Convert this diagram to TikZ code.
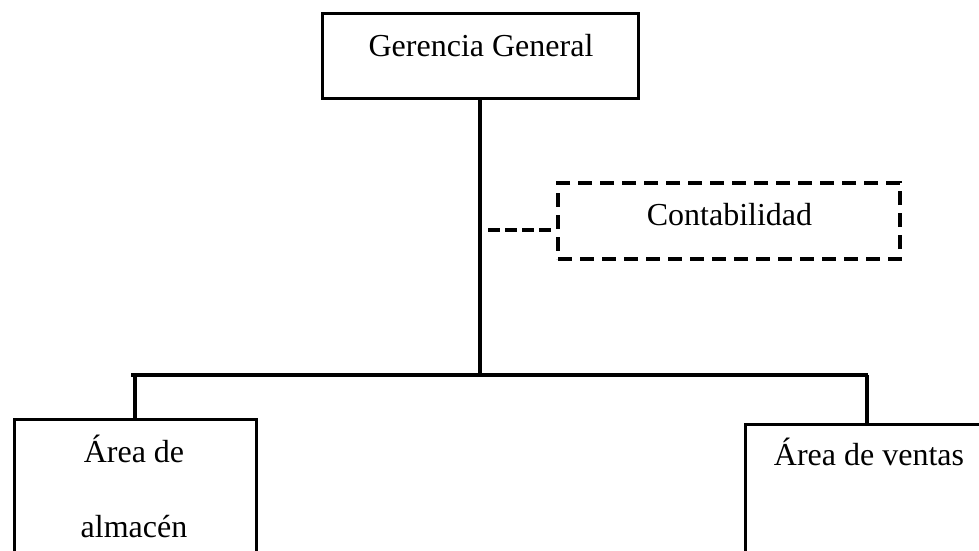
\documentclass[tikz,border=0pt]{standalone}
\usepackage{fontspec}
\setmainfont{Liberation Serif}
\begin{document}
\begin{tikzpicture}[x=1pt,y=-1pt,
  box/.style={draw=black, line width=3pt, fill=white, inner sep=0pt},
  dbox/.style={draw=black, line width=4.6pt, dash pattern=on 14pt off 8pt, inner sep=0pt},
  txt/.style={font=\fontsize{32}{75}\selectfont, inner sep=0pt, text=black},
  conn/.style={draw=black, line width=4pt},
  dconn/.style={draw=black, line width=3.4pt, dash pattern=on 12pt off 5pt}]
\useasboundingbox (0,0) rectangle (979,550);
\clip (0,0) rectangle (979,550);
% boxes
\node[box, minimum width=316pt, minimum height=85pt] (gg) at (480,55.5) {};
\node[txt, anchor=base] (ggt) at (481,56) {Gerencia General};
\node[dbox, minimum width=342pt, minimum height=76pt] (cont) at (729,221) {};
\node[txt, anchor=base] (contt) at (729.5,225) {Contabilidad};
\node[box, minimum width=242pt, minimum height=200pt] (alm) at (135,519) {};
\node[txt, anchor=base] (almt1) at (134,462) {Área de};
\node[txt, anchor=base] (almt2) at (134,537) {almacén};
\node[box, minimum width=248pt, minimum height=200pt] (ven) at (869,524) {};
\node[txt, anchor=base] (vent) at (869,465) {Área de ventas};
% connectors
\coordinate (hl) at (131,375);
\coordinate (hr) at (868,375);
\coordinate (dc) at (488,230);
\draw[conn] (gg.south) -- (gg.south |- hl);
\draw[conn] (hl) -- (hr);
\draw[conn] (alm.north |- hl) -- (alm.north);
\draw[conn] ([xshift=-2pt]ven.north |- hl) -- ([xshift=-2pt]ven.north);
\draw[dconn] (dc) -- (dc -| cont.west);
\end{tikzpicture}
\end{document}
